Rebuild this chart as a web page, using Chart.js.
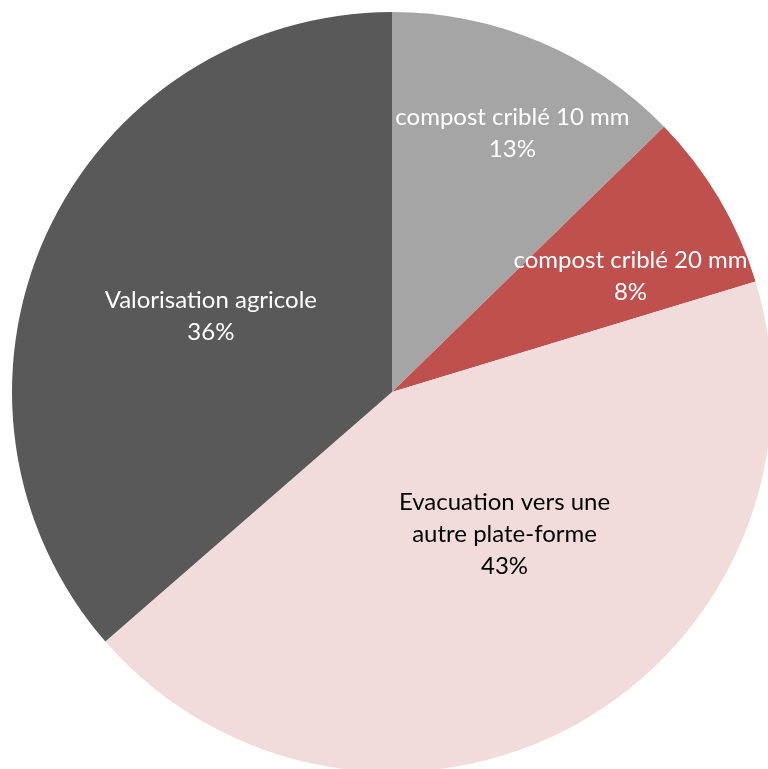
<!DOCTYPE html>
<html>
<head>
<meta charset="utf-8">
<script src="https://cdn.jsdelivr.net/npm/chart.js@4"></script>
<style>
  html, body { margin: 0; padding: 0; background: #fff; overflow: hidden; }
  #wrap { width: 784px; height: 784px; }
</style>
</head>
<body>
<div id="wrap"><canvas id="pie" width="784" height="784"></canvas></div>
<script>
var categories = ['compost criblé 10 mm', 'compost criblé 20 mm', 'Evacuation vers une autre plate-forme', 'Valorisation agricole']
var labelLines = [['compost criblé 10 mm'], ['compost criblé 20 mm'], ['Evacuation vers une', 'autre plate-forme'], ['Valorisation agricole']]
var shares = [12.7, 7.6, 43.3, 36.4]
var colors = ['#a5a5a5', '#c0504d', '#f2dcdb', '#595959']
var textColors = ['#ffffff', '#ffffff', '#000000', '#ffffff']
// label placement: radius fraction and angle shift (degrees) from slice middle
var labelRadius = [0.752, 0.697, 0.477, 0.517]
var labelShift = [2.05, 4.8, -9.4, -1.7]

var pieLabels = {
  id: 'pieLabels',
  afterDatasetsDraw: function(chart){
    var ctx = chart.ctx
    var meta = chart.getDatasetMeta(0)
    ctx.save()
    ctx.font = '24px Lato, sans-serif'
    ctx.textAlign = 'center'
    ctx.textBaseline = 'middle'
    meta.data.forEach(function(arc, i){
      var p = arc.getProps(['x', 'y', 'startAngle', 'endAngle', 'outerRadius'], true)
      var a = (p.startAngle + p.endAngle) / 2 + labelShift[i] * Math.PI / 180
      var r = p.outerRadius * labelRadius[i]
      var cx = p.x + Math.cos(a) * r
      var cy = p.y + Math.sin(a) * r
      var lines = labelLines[i].concat([Math.round(shares[i]) + '%'])
      var lh = 32
      var top = cy - (lines.length - 1) * lh / 2
      ctx.fillStyle = textColors[i]
      lines.forEach(function(t, j){ ctx.fillText(t, cx, top + j * lh) })
    })
    ctx.restore()
  }
}

new Chart(document.getElementById('pie'), {
  type: 'pie',
  data: {
    labels: categories,
    datasets: [{
      data: shares,
      backgroundColor: colors,
      borderWidth: 0
    }]
  },
  options: {
    responsive: false,
    animation: false,
    layout: { padding: 12 },
    plugins: { legend: { display: false }, tooltip: { enabled: false } }
  },
  plugins: [pieLabels]
})
</script>
</body>
</html>
